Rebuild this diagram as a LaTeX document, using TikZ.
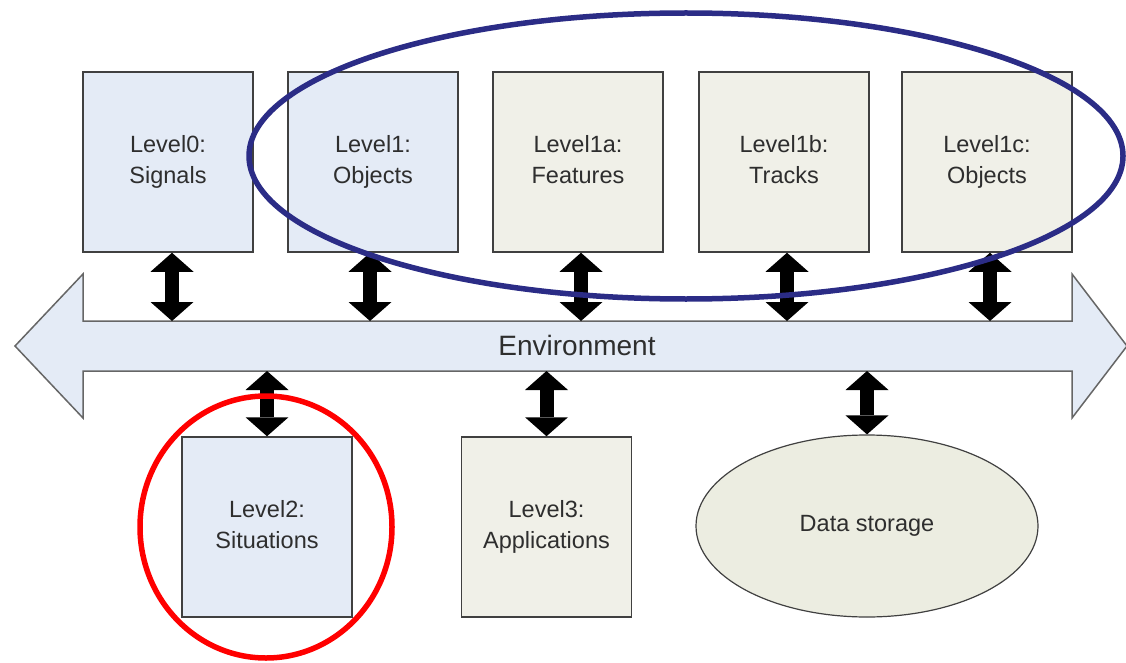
\documentclass[tikz,border=0pt]{standalone}
\usepackage{fontspec}
\setmainfont{Liberation Sans}
\usetikzlibrary{arrows.meta,shapes.geometric,calc}
\definecolor{boxblue}{HTML}{E4EBF6}
\definecolor{boxbeige}{HTML}{F0F0E8}
\definecolor{ellbeige}{HTML}{ECEDE1}
\definecolor{edge}{HTML}{404040}
\definecolor{txt}{HTML}{2E2E2E}
\definecolor{ringblue}{HTML}{2B2C86}
\definecolor{ringred}{HTML}{FF0000}
\newcommand{\twolines}[2]{#1\strut\\#2\strut}
\tikzset{
  levelbox/.style={draw=edge, line width=1.5pt, minimum width=170pt, minimum height=180pt,
    align=center, text=txt, font=\fontsize{23.5pt}{31pt}\selectfont, inner sep=0pt},
  bluebox/.style={levelbox, fill=boxblue},
  beigebox/.style={levelbox, fill=boxbeige},
  dbl/.style={line width=14pt, {Triangle[width=43pt,length=19pt,line width=0pt]}-{Triangle[width=43pt,length=19pt,line width=0pt]}},
  ring/.style={line width=5.5pt}
}
\begin{document}
\begin{tikzpicture}[x=1pt,y=-1pt]
\useasboundingbox (0,0) rectangle (1126,663);
% environment arrow
\draw[fill=boxblue, draw=edge!80, line width=1.5pt]
  (15,346) -- (83,274) -- (83,321) -- (1072,321) -- (1072,274) -- (1127,346)
  -- (1072,418) -- (1072,371) -- (83,371) -- (83,418) -- cycle;
\node[text=txt, font=\fontsize{28pt}{34pt}\selectfont] (env) at (577,345) {Environment};
\coordinate (envtop) at (577,321);
\coordinate (envbot) at (577,371);
% top boxes
\node[bluebox] (l0) at (168,162) {\twolines{Level0:}{Signals}};
\node[bluebox] (l1) at (373,162) {\twolines{Level1:}{Objects}};
\node[beigebox] (l1a) at (578,162) {\twolines{Level1a:}{Features}};
\node[beigebox] (l1b) at (784,162) {\twolines{Level1b:}{Tracks}};
\node[beigebox] (l1c) at (987,162) {\twolines{Level1c:}{Objects}};
% bottom
\node[bluebox] (l2) at (267,527) {\twolines{Level2:}{Situations}};
\node[beigebox] (l3) at (546.5,527) {\twolines{Level3:}{Applications}};
\node[draw=edge, line width=1.2pt, fill=ellbeige, ellipse, minimum width=342pt, minimum height=182pt,
  text=txt, font=\fontsize{23.5pt}{31pt}\selectfont, inner sep=0pt] (ds) at (867,526) {Data storage};
% double arrows
\draw[dbl] ([xshift=4pt]l0.south) -- ([xshift=4pt]l0.south |- envtop);
\draw[dbl] ([xshift=-3pt]l1.south) -- ([xshift=-3pt]l1.south |- envtop);
\draw[dbl] ([xshift=3pt]l1a.south) -- ([xshift=3pt]l1a.south |- envtop);
\draw[dbl] ([xshift=3pt]l1b.south) -- ([xshift=3pt]l1b.south |- envtop);
\draw[dbl] ([xshift=3pt]l1c.south) -- ([xshift=3pt]l1c.south |- envtop);
\draw[dbl] (l2.north |- envbot) -- (l2.north);
\draw[dbl] (l3.north |- envbot) -- (l3.north);
\draw[dbl] (ds.north |- envbot) -- (ds.north);
% highlight rings
\draw[ring, draw=ringblue] (686,156) ellipse [x radius=437, y radius=143];
\draw[ring, draw=ringred] (266,527) ellipse [x radius=126, y radius=131];
\end{tikzpicture}
\end{document}
